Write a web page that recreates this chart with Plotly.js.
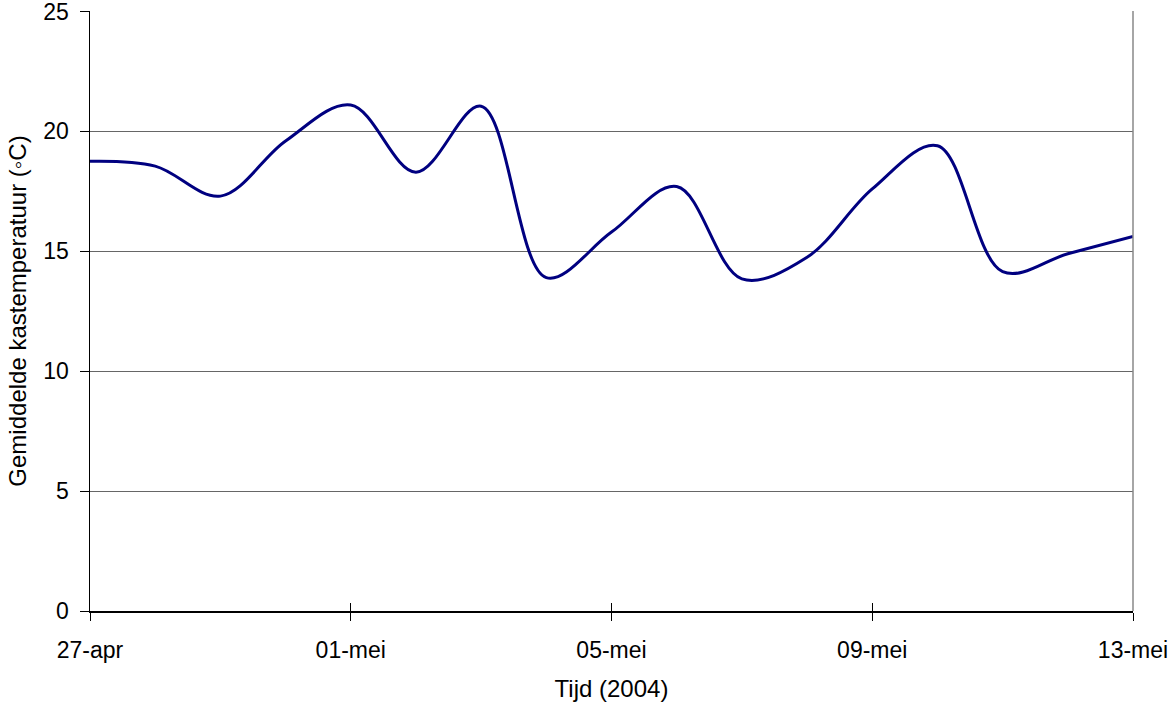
<!DOCTYPE html>
<html>
<head>
<meta charset="utf-8">
<script src="https://cdn.plot.ly/plotly-3.0.1.min.js"></script>
<style>html,body{margin:0;padding:0;background:#fff}#chart{width:1173px;height:708px}</style>
</head>
<body>
<div id="chart"></div>
<script>
// Dates (one per day)
const dates = ["2004-04-27","2004-04-28","2004-04-29","2004-04-30","2004-05-01","2004-05-02",
               "2004-05-03","2004-05-04","2004-05-05","2004-05-06","2004-05-07","2004-05-08",
               "2004-05-09","2004-05-10","2004-05-11","2004-05-12","2004-05-13"];
// Mean greenhouse temperature (°C)
const temperature = [18.75, 18.55, 17.3, 19.6, 21.1, 18.3, 21.05, 13.9, 15.8, 17.7,
                     13.85, 14.75, 17.6, 19.4, 14.15, 14.9, 15.62];
// Tick labels
const tickDates = ["2004-04-27","2004-05-01","2004-05-05","2004-05-09","2004-05-13"];
const tickLabels = ["27-apr","01-mei","05-mei","09-mei","13-mei"];
const yTicks = [0, 5, 10, 15, 20, 25];
const yTickLabels = ["0", "5", "10", "15", "20", "25"];

const font = "Liberation Sans, Arial, sans-serif";

const trace = {
  x: dates, y: temperature, type: "scatter", mode: "lines",
  line: {color: "#000080", width: 3, shape: "spline", smoothing: 1},
  hoverinfo: "skip", cliponaxis: false
};

const layout = {
  width: 1173, height: 708,
  margin: {l: 90, r: 40, t: 11, b: 97, pad: 0},
  paper_bgcolor: "#ffffff", plot_bgcolor: "#ffffff",
  showlegend: false,
  font: {family: font, color: "#000", size: 23},
  xaxis: {
    type: "date", range: ["2004-04-27", "2004-05-13"],
    tickvals: tickDates, ticktext: tickLabels,
    ticks: "outside", ticklen: 8, tickwidth: 1, tickcolor: "#000",
    showline: true, linecolor: "#000", linewidth: 1.5,
    showgrid: false, zeroline: false,
    tickfont: {family: font, size: 23, color: "#000"},
    ticklabelstandoff: 10,
    title: {text: "Tijd (2004)", font: {family: font, size: 24, color: "#000"}, standoff: 18},
    automargin: false, fixedrange: true
  },
  xaxis2: {
    type: "date", overlaying: "x", matches: "x", anchor: "y", side: "bottom",
    tickvals: tickDates, ticks: "inside", ticklen: 8, tickwidth: 1, tickcolor: "#000",
    showticklabels: false, showgrid: false, showline: false, zeroline: false
  },
  yaxis: {
    range: [0, 25.02], tickmode: "array", tickvals: yTicks, ticktext: yTickLabels,
    ticks: "outside", ticklen: 9, tickwidth: 1, tickcolor: "#000",
    showline: true, linecolor: "#000", linewidth: 1.5,
    showgrid: true, gridcolor: "#666666", gridwidth: 1,
    zeroline: false,
    tickfont: {family: font, size: 23, color: "#000"},
    ticklabelstandoff: 6, ticklabeloverflow: "allow",
    title: {text: "Gemiddelde kastemperatuur (◦C)", font: {family: font, size: 24, color: "#000"}, standoff: 10},
    automargin: false, fixedrange: true
  },
  shapes: [{
    type: "line", xref: "paper", yref: "paper", x0: 1, x1: 1, y0: 0, y1: 1,
    line: {color: "#888888", width: 1.5}
  }]
};

Plotly.newPlot("chart", [trace, {x: [dates[0]], y: [null], xaxis: "x2", yaxis: "y", type: "scatter", mode: "lines", hoverinfo: "skip", showlegend: false}], layout, {displayModeBar: false, staticPlot: true});
</script>
</body>
</html>
